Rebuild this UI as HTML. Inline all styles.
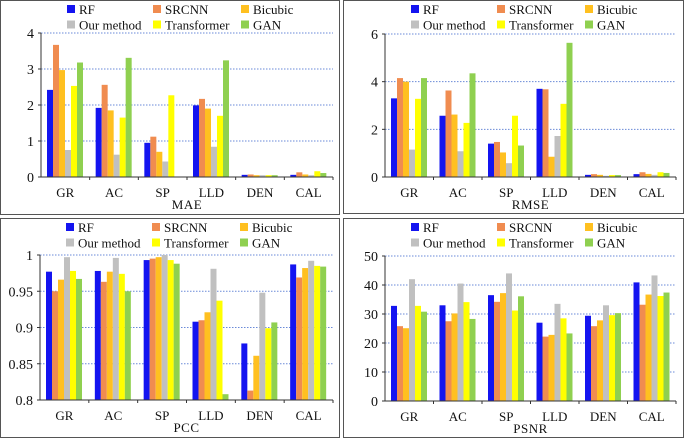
<!DOCTYPE html>
<html><head><meta charset="utf-8">
<style>
html,body{margin:0;padding:0;background:#fff;}
svg{display:block;}
svg text{font-family:"Liberation Serif","DejaVu Serif","Times New Roman",serif;}
</style></head>
<body>
<svg id="c" width="685" height="438" viewBox="0 0 685 438" font-family="Liberation Serif, DejaVu Serif, serif"></svg>
<script>
const categories = ["GR","AC","SP","LLD","DEN","CAL"];
const seriesNames = ["RF","SRCNN","Bicubic","Our method","Transformer","GAN"];
const maeRF=[2.42,1.92,0.95,1.99,0.06,0.06];
const maeSRCNN=[3.67,2.56,1.12,2.17,0.07,0.13];
const maeBicubic=[2.97,1.85,0.70,1.90,0.05,0.07];
const maeOur=[0.75,0.62,0.43,0.84,0.05,0.05];
const maeTransformer=[2.53,1.65,2.27,1.70,0.05,0.16];
const maeGAN=[3.18,3.31,0.00,3.24,0.05,0.11];
const rmseRF=[3.3,2.57,1.4,3.7,0.09,0.12];
const rmseSRCNN=[4.15,3.63,1.47,3.68,0.12,0.2];
const rmseBicubic=[4.0,2.62,1.03,0.85,0.09,0.13];
const rmseOur=[1.15,1.08,0.58,1.72,0.05,0.09];
const rmseTransformer=[3.28,2.27,2.57,3.07,0.08,0.2];
const rmseGAN=[4.15,4.35,1.32,5.63,0.08,0.17];
const pccRF=[0.977,0.978,0.993,0.908,0.878,0.987];
const pccSRCNN=[0.950,0.963,0.995,0.910,0.813,0.969];
const pccBicubic=[0.966,0.977,0.997,0.921,0.861,0.982];
const pccOur=[0.997,0.996,1.0,0.981,0.948,0.992];
const pccTransformer=[0.978,0.974,0.993,0.937,0.899,0.985];
const pccGAN=[0.967,0.950,0.988,0.808,0.907,0.984];
const psnrRF=[32.8,33,36.5,27,29.4,40.9];
const psnrSRCNN=[25.8,27.5,34.2,22.2,25.8,33.2];
const psnrBicubic=[25.1,30.2,37.2,22.8,27.8,36.7];
const psnrOur=[42,40.5,44,33.5,33,43.3];
const psnrTransformer=[32.8,34.1,31.2,28.5,29.6,36.2];
const psnrGAN=[30.8,28.3,36.1,23.3,30.3,37.4];
const maeTicks=["0","1","2","3","4"];
const rmseTicks=["0","2","4","6"];
const pccTicks=["0.8","0.85","0.9","0.95","1"];
const psnrTicks=["0","10","20","30","40","50"];

const colors=["#1414f0","#f08c50","#ffc020","#c0c0c0","#ffff00","#8fd050"];
const FONT="Liberation Serif, DejaVu Serif, serif";
const NS="http://www.w3.org/2000/svg";
const svg=document.getElementById('c');
function mk(tag,attrs,parent){const e=document.createElementNS(NS,tag);for(const k in attrs)e.setAttribute(k,attrs[k]);if(tag==='text')e.setAttribute('font-family',FONT);(parent||svg).appendChild(e);return e;}

const panels=[
 {id:"mae",title:"MAE",box:[0.5,0.5,339,214],x0:41,x1:333,yTop:33,yZero:177,min:0,max:4,ticks:maeTicks,data:[maeRF,maeSRCNN,maeBicubic,maeOur,maeTransformer,maeGAN],oy:0},
 {id:"rmse",title:"RMSE",box:[343.5,0.5,340,213],x0:385,x1:676,yTop:34,yZero:177,min:0,max:6,ticks:rmseTicks,data:[rmseRF,rmseSRCNN,rmseBicubic,rmseOur,rmseTransformer,rmseGAN],oy:0},
 {id:"pcc",title:"PCC",box:[0.5,218.5,339,219],x0:40,x1:333,yTop:255,yZero:400,min:0.8,max:1,ticks:pccTicks,data:[pccRF,pccSRCNN,pccBicubic,pccOur,pccTransformer,pccGAN],oy:218},
 {id:"psnr",title:"PSNR",box:[343.5,218.5,340,219],x0:385,x1:676,yTop:256,yZero:401,min:0,max:50,ticks:psnrTicks,data:[psnrRF,psnrSRCNN,psnrBicubic,psnrOur,psnrTransformer,psnrGAN],oy:218}
];

panels.forEach(p=>{
 const g=mk('g',{});
 
 
 const b=mk('rect',{x:p.box[0],y:p.box[1],width:p.box[2],height:p.box[3],fill:'none',stroke:'#555','stroke-width':1},g);
 
 
 const yScale=v=>p.yZero-(v-p.min)/(p.max-p.min)*(p.yZero-p.yTop);
 const gw=(p.x1-p.x0)/categories.length;
 p.ticks.forEach((t,i)=>{
  const v=p.min+(p.max-p.min)*i/(p.ticks.length-1);
  const y=yScale(v);
  if(i>0){const gl=mk('line',{x1:p.x0,x2:p.x1,y1:y,y2:y,stroke:'#6a8ad8','stroke-width':1,'stroke-dasharray':'1.5,1.5'},g);
   
   }
  mk('line',{x1:p.x0-3,x2:p.x0,y1:y,y2:y,stroke:'#333'},g);
  const tx=mk('text',{x:p.x0-7,y:y+5,'text-anchor':'end','font-size':14,fill:'#111'},g);
  tx.textContent=t;
  
  
 });
 p.data.forEach((arr,s)=>{
  arr.forEach((v,c)=>{
   const x=p.x0+c*gw+6+s*6;
   const y=yScale(Math.max(v,p.min));
   const r=mk('rect',{x:x,y:y,width:6,height:Math.max(0,p.yZero-y),fill:colors[s]},g);
   
   
  });
 });
 mk('line',{x1:p.x0,x2:p.x0,y1:p.yTop,y2:p.yZero,stroke:'#333'},g);
 mk('line',{x1:p.x0,x2:p.x1,y1:p.yZero,y2:p.yZero,stroke:'#333'},g);
 categories.forEach((c,i)=>{
  const xt=p.x0+(i+1)*gw;
  mk('line',{x1:xt,x2:xt,y1:p.yZero,y2:p.yZero+3,stroke:'#333'},g);
  const tx=mk('text',{x:p.x0+(i+0.5)*gw,y:p.yZero+20,'text-anchor':'middle','font-size':13,fill:'#111'},g);
  tx.textContent=c;
  
  
 });
 const tt=mk('text',{x:(p.x0+p.x1)/2,y:p.yZero+32,'text-anchor':'middle','font-size':13,fill:'#111','letter-spacing':'0.5'},g);
 tt.textContent=p.title;
 
 
 const lx=[p.x0+26,p.x0+112,p.x0+200];
 seriesNames.forEach((n,i)=>{
  const col=i%3,row=Math.floor(i/3);
  const x=lx[col],y=p.oy+10+row*15.5;
  const lg=mk('g',{},g);
  
  
  mk('rect',{x:x,y:y-5,width:8,height:8,fill:colors[i]},lg);
  const tx=mk('text',{x:x+12,y:y+4,'font-size':13,fill:'#111'},lg);
  tx.textContent=n;
 });
});
</script>
</body></html>
